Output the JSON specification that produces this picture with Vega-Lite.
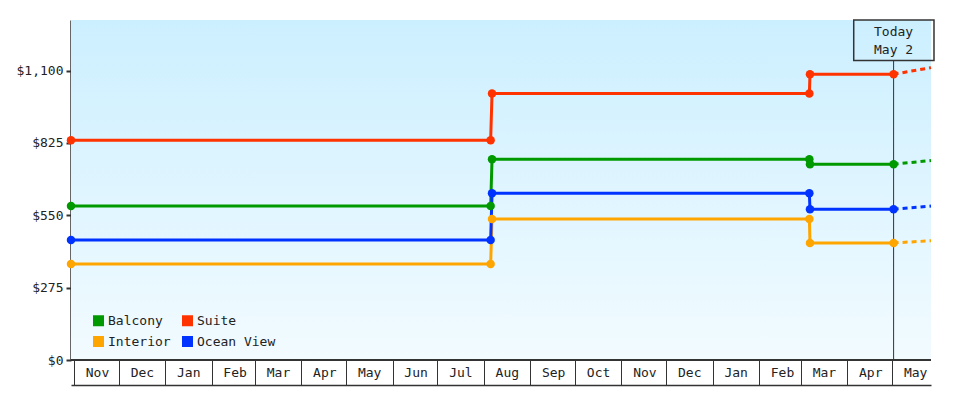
{
  "$schema": "https://vega.github.io/schema/vega-lite/v6.json",
  "width": 860,
  "height": 340,
  "autosize": {"type": "none"},
  "padding": {"left": 71, "top": 20, "right": 49, "bottom": 40},
  "background": "white",
  "datasets": {
    "prices": [
      {"date": "2023-10-30", "cabin": "Balcony", "price": 585},
      {"date": "2024-08-05T14:00:00Z", "cabin": "Balcony", "price": 585},
      {"date": "2024-08-06T12:00:00Z", "cabin": "Balcony", "price": 763},
      {"date": "2025-03-06T16:00:00Z", "cabin": "Balcony", "price": 763},
      {"date": "2025-03-07T02:00:00Z", "cabin": "Balcony", "price": 744},
      {"date": "2025-05-02", "cabin": "Balcony", "price": 744},
      {"date": "2023-10-30", "cabin": "Suite", "price": 835},
      {"date": "2024-08-05T14:00:00Z", "cabin": "Suite", "price": 835},
      {"date": "2024-08-06T12:00:00Z", "cabin": "Suite", "price": 1013},
      {"date": "2025-03-06T16:00:00Z", "cabin": "Suite", "price": 1013},
      {"date": "2025-03-07T02:00:00Z", "cabin": "Suite", "price": 1086},
      {"date": "2025-05-02", "cabin": "Suite", "price": 1086},
      {"date": "2023-10-30", "cabin": "Interior", "price": 365},
      {"date": "2024-08-05T14:00:00Z", "cabin": "Interior", "price": 365},
      {"date": "2024-08-06T12:00:00Z", "cabin": "Interior", "price": 536},
      {"date": "2025-03-06T16:00:00Z", "cabin": "Interior", "price": 536},
      {"date": "2025-03-07T02:00:00Z", "cabin": "Interior", "price": 445},
      {"date": "2025-05-02", "cabin": "Interior", "price": 445},
      {"date": "2023-10-30", "cabin": "Ocean View", "price": 456},
      {"date": "2024-08-05T14:00:00Z", "cabin": "Ocean View", "price": 456},
      {"date": "2024-08-06T12:00:00Z", "cabin": "Ocean View", "price": 634},
      {"date": "2025-03-06T16:00:00Z", "cabin": "Ocean View", "price": 634},
      {"date": "2025-03-07T02:00:00Z", "cabin": "Ocean View", "price": 573},
      {"date": "2025-05-02", "cabin": "Ocean View", "price": 573}
    ],
    "projection": [
      {"date": "2025-05-02", "cabin": "Balcony", "price": 744},
      {"date": "2025-05-27", "cabin": "Balcony", "price": 758},
      {"date": "2025-05-02", "cabin": "Suite", "price": 1086},
      {"date": "2025-05-27", "cabin": "Suite", "price": 1111},
      {"date": "2025-05-02", "cabin": "Interior", "price": 445},
      {"date": "2025-05-27", "cabin": "Interior", "price": 453},
      {"date": "2025-05-02", "cabin": "Ocean View", "price": 573},
      {"date": "2025-05-27", "cabin": "Ocean View", "price": 585}
    ]
  },
  "layer": [
    {
      "data": {"values": [{}]},
      "mark": {
        "type": "rect",
        "fill": {
          "gradient": "linear",
          "x1": 0, "y1": 0, "x2": 0, "y2": 1,
          "stops": [
            {"offset": 0, "color": "#ccefff"},
            {"offset": 1, "color": "#f2fbff"}
          ]
        }
      },
      "encoding": {
        "x": {
          "datum": {"year": 2023, "month": 10, "date": 30, "utc": true},
          "type": "temporal",
          "title": null,
          "scale": {
            "type": "utc",
            "nice": false,
            "domain": [
              {"year": 2023, "month": 10, "date": 30, "utc": true},
              {"year": 2025, "month": 5, "date": 27, "utc": true}
            ]
          },
          "axis": {"title": null, "format": "%b", "tickCount": "month"}
        },
        "x2": {"datum": {"year": 2025, "month": 5, "date": 27, "utc": true}},
        "y": {
          "datum": 0,
          "type": "quantitative",
          "title": null,
          "scale": {"domain": [0, 1292], "nice": false},
          "axis": {"title": null, "values": [0, 275, 550, 825, 1100], "format": "$,.0f"}
        },
        "y2": {"datum": 1292}
      }
    },
    {
      "data": {"values": [{}]},
      "mark": {"type": "rule", "color": "#333", "strokeWidth": 2},
      "encoding": {
        "y": {"datum": 0, "type": "quantitative", "title": null}
      }
    },
    {
      "data": {"values": [{}]},
      "mark": {"type": "rule", "color": "#333", "strokeWidth": 1},
      "encoding": {
        "x": {"datum": {"year": 2025, "month": 5, "date": 2, "utc": true}, "type": "temporal", "title": null},
        "y": {"datum": 0, "type": "quantitative", "title": null},
        "y2": {"datum": 1138}
      }
    },
    {
      "data": {"values": [{}]},
      "mark": {"type": "rect", "fillOpacity": 0, "stroke": "#333", "strokeWidth": 1.5},
      "encoding": {
        "x": {"datum": {"year": 2025, "month": 4, "date": 5, "hours": 8, "utc": true}, "type": "temporal", "title": null},
        "x2": {"datum": {"year": 2025, "month": 5, "date": 29, "utc": true}},
        "y": {"datum": 1138, "type": "quantitative", "title": null},
        "y2": {"datum": 1292}
      }
    },
    {
      "data": {"values": [{}]},
      "mark": {
        "type": "text",
        "text": ["Today", "May 2"],
        "font": "DejaVu Sans Mono",
        "fontSize": 13,
        "lineHeight": 18.5,
        "color": "#222",
        "align": "center",
        "baseline": "middle"
      },
      "encoding": {
        "x": {"datum": {"year": 2025, "month": 5, "date": 2, "utc": true}, "type": "temporal", "title": null},
        "y": {"datum": 1248, "type": "quantitative", "title": null}
      }
    },
    {
      "data": {"name": "projection"},
      "mark": {"type": "line", "strokeWidth": 3, "strokeDash": [5, 4]},
      "encoding": {
        "x": {"field": "date", "type": "temporal", "title": null},
        "y": {"field": "price", "type": "quantitative", "title": null},
        "color": {"field": "cabin", "type": "nominal", "title": null}
      }
    },
    {
      "data": {"name": "prices"},
      "mark": {"type": "line", "strokeWidth": 3, "point": {"filled": true, "size": 72, "opacity": 1}},
      "encoding": {
        "x": {"field": "date", "type": "temporal", "title": null},
        "y": {"field": "price", "type": "quantitative", "title": null},
        "color": {
          "field": "cabin",
          "type": "nominal",
          "title": null,
          "scale": {
            "domain": ["Balcony", "Interior", "Suite", "Ocean View"],
            "range": ["#009900", "#ffa500", "#ff3300", "#0033ff"]
          },
          "legend": {
            "title": null,
            "orient": "none",
            "legendX": 21,
            "legendY": 294,
            "columns": 2,
            "symbolType": "square",
            "encode": {
              "symbols": {
                "update": {
                  "fill": {"scale": "color", "field": "value"},
                  "strokeWidth": {"value": 0},
                  "opacity": {"value": 1}
                }
              }
            }
          }
        }
      }
    }
  ],
  "config": {
    "view": {"stroke": null},
    "font": "DejaVu Sans Mono",
    "axis": {
      "grid": false,
      "zindex": 1,
      "labelFont": "DejaVu Sans Mono",
      "labelFontSize": 13,
      "labelColor": "#222",
      "domainColor": "#333",
      "tickColor": "#333"
    },
    "axisX": {
      "offset": 25,
      "tickSize": -25,
      "tickWidth": 1,
      "domainWidth": 1.5,
      "labelAlign": "center",
      "labelBaseline": "middle",
      "labelOffset": 23,
      "labelPadding": 12.5,
      "labelOverlap": false,
      "labelFlush": false
    },
    "axisY": {
      "domainWidth": 2.5,
      "tickWidth": 2,
      "tickSize": 5,
      "labelPadding": 3
    },
    "legend": {
      "symbolType": "square",
      "symbolSize": 121,
      "symbolStrokeWidth": 0,
      "symbolOpacity": 1,
      "labelFont": "DejaVu Sans Mono",
      "labelFontSize": 13,
      "labelColor": "#222",
      "labelOffset": 3,
      "columnPadding": 10,
      "rowPadding": 7,
      "padding": 0
    }
  }
}
